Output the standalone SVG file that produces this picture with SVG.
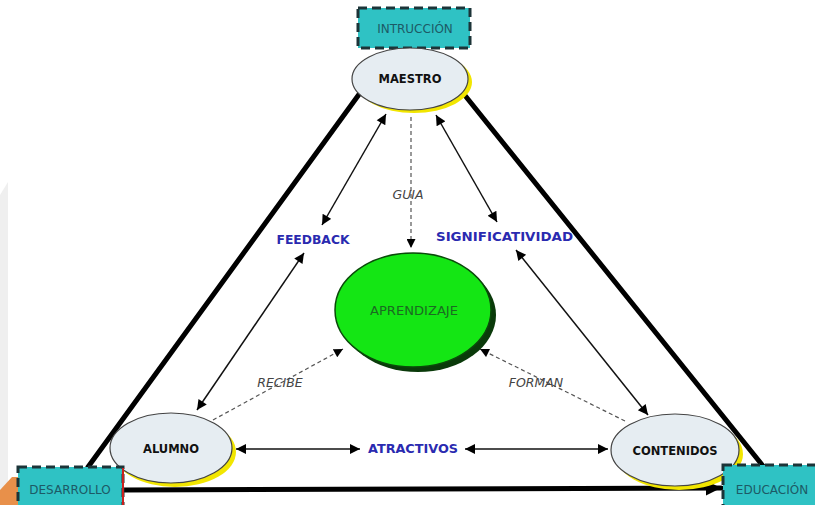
<svg xmlns="http://www.w3.org/2000/svg" width="815" height="505" viewBox="0 0 815 505">
<style>
.box{fill:#2fc2c4;stroke:#1c3438;stroke-width:3;stroke-dasharray:9,5}
.boxt{font-family:"DejaVu Sans",Verdana,sans-serif;font-size:12px;fill:#1d5a66;text-anchor:middle}
.node{fill:#e6edf2;stroke:#444;stroke-width:1.2}
.shadow{fill:#f2e600}
.nodet{font-family:"DejaVu Sans",Verdana,sans-serif;font-size:11.5px;font-weight:bold;fill:#111;text-anchor:middle}
.lbl{font-family:"DejaVu Sans",Verdana,sans-serif;font-size:12px;font-weight:bold;fill:#2a2ab0;text-anchor:middle}
.it{font-family:"DejaVu Sans",Verdana,sans-serif;font-size:12.5px;font-style:italic;fill:#444;text-anchor:middle}
.thick{stroke:#000;stroke-width:5;fill:none;stroke-linecap:round}
.dbl{stroke:#111;stroke-width:1.5;fill:none;marker-start:url(#ah);marker-end:url(#ah)}
.dash{stroke:#555;stroke-width:1.2;fill:none;stroke-dasharray:4,3;marker-end:url(#ah2)}
</style>
<defs>
<marker id="ah" viewBox="0 0 10 10" refX="10" refY="5" markerWidth="12" markerHeight="10" markerUnits="userSpaceOnUse" orient="auto-start-reverse"><path d="M0,0 L10,5 L0,10 z" fill="#000"/></marker>
<marker id="ah2" viewBox="0 0 10 10" refX="10" refY="5" markerWidth="10" markerHeight="9" markerUnits="userSpaceOnUse" orient="auto"><path d="M0,0 L10,5 L0,10 z" fill="#000"/></marker>
<marker id="ahb" viewBox="0 0 10 10" refX="10" refY="5" markerWidth="20" markerHeight="15" markerUnits="userSpaceOnUse" orient="auto"><path d="M0,0 L10,5 L0,10 z" fill="#000"/></marker>
</defs>
<rect width="815" height="505" fill="#fff"/>
<g id="background">
<polygon points="0,195 8,182 8,505 0,505" fill="#efefef"/>
<polygon points="0,490 12,477 18,477 18,505 0,505" fill="#e8904a"/>
</g>
<g id="connectors">
<line class="thick" x1="88" y1="467" x2="360" y2="93"/>
<line class="thick" x1="463" y1="93" x2="763" y2="466"/>
<line class="thick" x1="123" y1="490" x2="721" y2="488" marker-end="url(#ahb)" stroke-linecap="butt"/>
<line class="dbl" x1="386" y1="114" x2="322" y2="225"/>
<line class="dbl" x1="304" y1="253" x2="197" y2="410"/>
<line class="dbl" x1="436" y1="115" x2="497" y2="222"/>
<line class="dbl" x1="516" y1="250" x2="648" y2="415"/>
<line class="dbl" x1="236" y1="449" x2="360" y2="449"/>
<line class="dbl" x1="465" y1="449" x2="608" y2="449"/>
<line class="dash" x1="411" y1="117" x2="411" y2="248"/>
<line class="dash" x1="213" y1="420" x2="343" y2="349"/>
<line class="dash" x1="625" y1="421" x2="480" y2="349"/>
<text class="lbl" x="313" y="244" textLength="73" lengthAdjust="spacingAndGlyphs">FEEDBACK</text>
<text class="lbl" x="504.5" y="241" textLength="137" lengthAdjust="spacingAndGlyphs">SIGNIFICATIVIDAD</text>
<text class="lbl" x="413" y="453" textLength="90" lengthAdjust="spacingAndGlyphs">ATRACTIVOS</text>
<text class="it" x="408" y="199">GUIA</text>
<text class="it" x="280" y="387">RECIBE</text>
<text class="it" x="536" y="387">FORMAN</text>
</g>
<g id="aprendizaje">
<ellipse cx="418" cy="315" rx="78" ry="57" fill="#0a3a0a"/>
<ellipse cx="413" cy="310" rx="78" ry="57" fill="#14e614" stroke="#0a4a0a" stroke-width="1.5"/>
<text x="414" y="315" font-family="'DejaVu Sans',Verdana,sans-serif" font-size="13" fill="#1b6b22" text-anchor="middle" textLength="88" lengthAdjust="spacingAndGlyphs">APRENDIZAJE</text>
</g>
<g id="instruccion">
<rect class="box" x="358" y="8" width="112" height="40"/>
<text class="boxt" x="415" y="33">INTRUCCIÓN</text>
</g>
<g id="maestro">
<ellipse class="shadow" cx="414" cy="82" rx="58" ry="31"/>
<ellipse class="node" cx="410" cy="79" rx="58" ry="31"/>
<text class="nodet" x="410" y="83">MAESTRO</text>
</g>
<g id="alumno">
<ellipse class="shadow" cx="175" cy="452" rx="61" ry="35"/>
<ellipse class="node" cx="171" cy="448" rx="61" ry="35"/>
<text class="nodet" x="171" y="453">ALUMNO</text>
</g>
<g id="contenidos">
<ellipse class="shadow" cx="679" cy="454" rx="64" ry="36"/>
<ellipse class="node" cx="675" cy="450" rx="64" ry="36"/>
<text class="nodet" x="675" y="455">CONTENIDOS</text>
</g>
<g id="desarrollo">
<rect class="box" x="18" y="467" width="105" height="45"/>
<line x1="123" y1="468" x2="123" y2="505" stroke="#c8201e" stroke-width="2"/>
<text class="boxt" x="70" y="494">DESARROLLO</text>
</g>
<g id="educacion">
<rect class="box" x="723" y="465" width="100" height="50"/>
<text class="boxt" x="772" y="494">EDUCACIÓN</text>
</g>
</svg>
